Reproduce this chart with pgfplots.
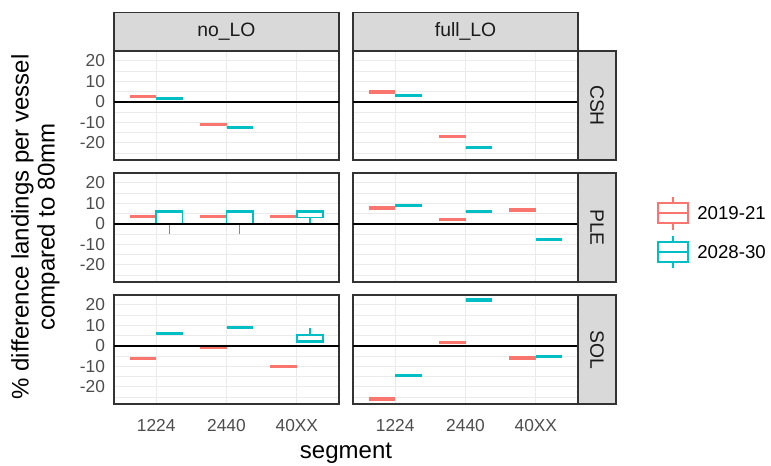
\documentclass[border=0pt]{standalone}
\usepackage{fontspec}
\setmainfont{Liberation Sans}
\usepackage{pgfplots}
\pgfplotsset{compat=1.18}
\usepgfplotslibrary{statistics}
\definecolor{c1}{HTML}{F8766D}
\definecolor{c2}{HTML}{00BFC4}
\definecolor{grey92}{HTML}{EBEBEB}
\definecolor{grey20}{HTML}{333333}
\definecolor{grey30}{HTML}{4D4D4D}
\definecolor{grey85}{HTML}{D9D9D9}
\definecolor{grey10}{HTML}{1A1A1A}
\pgfplotsset{
  panel/.style={scale only axis, width=168.75pt, height=81.75pt, anchor=north west,
    xmin=0.4, xmax=3.6, ymin=-28.4, ymax=24.8,
    xtick={1,2,3}, ytick={-20,-10,0,10,20}, minor ytick={-25,-15,-5,5,15},
    xticklabels={}, yticklabels={},
    grid=both, major grid style={color=grey92, line width=0.9pt},
    minor grid style={color=grey92, line width=0.5pt},
    axis line style={grey20, line width=0.8pt},
    tick align=outside, major tick length=3.75pt, minor tick length=0pt,
    xtick pos=bottom, ytick pos=left,
    xtick style={draw=none}, ytick style={draw=none},
    boxplot/draw direction=y,
    boxplot/box extend=0.375, boxplot/whisker extend=0,
    boxplot/every median/.style={line width=2.6pt}},
  leftcol/.style={yticklabels={-20,-10,0,10,20}, ytick style={grey20, line width=0.8pt},
    yticklabel style={font=\fontsize{13}{14}\selectfont, text=grey30, xshift=0.5pt}},
  bottomrow/.style={xticklabels={1224,2440,40XX}, xtick style={grey20, line width=0.8pt},
    xticklabel style={font=\fontsize{13}{14}\selectfont, text=grey30, yshift=-4.3pt}},
  rb/.style={draw=c1, fill=white, line width=1.2pt, mark=none},
  cb/.style={draw=c2, fill=white, line width=1.2pt, mark=none},
}
% #1 style, #2 position, #3 lower whisker, #4 lower quartile, #5 median, #6 upper quartile, #7 upper whisker
\newcommand{\bx}[7]{\addplot[#1, boxplot prepared={draw position=#2, lower whisker=#3, lower quartile=#4, median=#5, upper quartile=#6, upper whisker=#7}] coordinates {};}
\newcommand{\zero}{\addplot[black, line width=1.25pt] coordinates {(0.4,0) (3.6,0)};}
\begin{document}
\begin{tikzpicture}
\useasboundingbox (0,0) rectangle (578.25pt,-349.5pt);
% ---------- CSH no_LO
\begin{axis}[panel, leftcol, at={(85.5pt,-38.25pt)}]
\bx{rb}{0.8125}{2.7}{2.7}{2.7}{2.7}{2.7}
\bx{cb}{1.1875}{1.6}{1.6}{1.6}{1.6}{1.6}
\bx{rb}{1.8125}{-11.1}{-11.1}{-11.1}{-11.1}{-11.1}
\bx{cb}{2.1875}{-12.6}{-12.6}{-12.6}{-12.6}{-12.4}
\zero
\end{axis}
% ---------- CSH full_LO
\begin{axis}[panel, at={(264.75pt,-38.25pt)}]
\bx{rb}{0.8125}{4.8}{4.8}{4.8}{4.8}{4.8}
\bx{cb}{1.1875}{3.2}{3.2}{3.2}{3.2}{3.2}
\bx{rb}{1.8125}{-16.9}{-16.9}{-16.9}{-16.9}{-16.9}
\bx{cb}{2.1875}{-22.4}{-22.4}{-22.4}{-22.4}{-21.8}
\zero
\end{axis}
% ---------- PLE no_LO
\begin{axis}[panel, leftcol, at={(85.5pt,-129.75pt)}]
\bx{rb}{0.8125}{3.5}{3.5}{3.5}{3.5}{3.5}
\bx{cb}{1.1875}{-5.2}{0}{6.0}{6.4}{6.4}
\bx{rb}{1.8125}{3.5}{3.5}{3.5}{3.5}{3.5}
\bx{cb}{2.1875}{-5.2}{0}{6.0}{6.4}{6.4}
\bx{rb}{2.8125}{3.5}{3.5}{3.5}{3.5}{3.5}
\bx{cb}{3.1875}{0.3}{3.0}{6.0}{6.5}{6.5}
\zero
\end{axis}
% ---------- PLE full_LO
\begin{axis}[panel, at={(264.75pt,-129.75pt)}]
\bx{rb}{0.8125}{7.7}{7.7}{7.7}{7.7}{7.7}
\bx{cb}{1.1875}{8.9}{8.9}{8.9}{8.9}{8.9}
\bx{rb}{1.8125}{2.1}{2.1}{2.1}{2.1}{2.1}
\bx{cb}{2.1875}{6.0}{6.0}{6.0}{6.0}{6.0}
\bx{rb}{2.8125}{6.8}{6.8}{6.8}{6.8}{6.8}
\bx{cb}{3.1875}{-7.7}{-7.7}{-7.7}{-7.7}{-7.7}
\zero
\end{axis}
% ---------- SOL no_LO
\begin{axis}[panel, leftcol, bottomrow, at={(85.5pt,-221.25pt)}]
\bx{rb}{0.8125}{-6.1}{-6.1}{-6.1}{-6.1}{-6.1}
\bx{cb}{1.1875}{6.0}{6.0}{6.0}{6.0}{6.0}
\bx{rb}{1.8125}{-0.6}{-0.6}{-0.6}{-0.6}{-0.6}
\bx{cb}{2.1875}{9.0}{9.0}{9.0}{9.0}{9.0}
\bx{rb}{2.8125}{-10.2}{-10.2}{-10.2}{-10.2}{-10.2}
\bx{cb}{3.1875}{1.6}{1.6}{2.2}{5.2}{8.7}
\zero
\end{axis}
% ---------- SOL full_LO
\begin{axis}[panel, bottomrow, at={(264.75pt,-221.25pt)}]
\bx{rb}{0.8125}{-26.0}{-26.0}{-26.0}{-26.0}{-26.0}
\bx{cb}{1.1875}{-14.5}{-14.5}{-14.5}{-14.5}{-14.5}
\bx{rb}{1.8125}{1.6}{1.6}{1.6}{1.6}{1.6}
\bx{cb}{2.1875}{22.3}{22.3}{22.3}{22.3}{22.3}
\bx{rb}{2.8125}{-6.0}{-6.0}{-6.0}{-6.0}{-6.0}
\bx{cb}{3.1875}{-5.3}{-5.3}{-5.3}{-5.3}{-4.3}
\zero
\end{axis}
% ---------- strips
\begin{scope}[every node/.style={font=\fontsize{14.5}{16}\selectfont, text=grey10}]
\draw[grey20, fill=grey85, line width=0.8pt] (85.5pt,-9.375pt) rectangle (254.25pt,-38.25pt);
\node at (169.875pt,-23.8pt) {no\_LO};
\draw[grey20, fill=grey85, line width=0.8pt] (264.75pt,-9.375pt) rectangle (433.5pt,-38.25pt);
\node at (349.125pt,-23.8pt) {full\_LO};
\draw[grey20, fill=grey85, line width=0.8pt] (433.5pt,-38.25pt) rectangle (462pt,-120pt);
\node[rotate=-90] at (447.75pt,-79.125pt) {CSH};
\draw[grey20, fill=grey85, line width=0.8pt] (433.5pt,-129.75pt) rectangle (462pt,-211.5pt);
\node[rotate=-90] at (447.75pt,-170.625pt) {PLE};
\draw[grey20, fill=grey85, line width=0.8pt] (433.5pt,-221.25pt) rectangle (462pt,-303pt);
\node[rotate=-90] at (447.75pt,-262.125pt) {SOL};
\end{scope}
% ---------- axis titles
\node[font=\fontsize{18}{19.5}\selectfont, anchor=base] at (259.5pt,-344.25pt) {segment};
\node[font=\fontsize{18}{19.5}\selectfont, rotate=90, align=center] at (26.5pt,-170.25pt) {\% difference landings per vessel\\compared to 80mm};
% ---------- legend
\begin{scope}[line width=1.1pt]
\draw[c1] (504.75pt,-147.75pt) -- (504.75pt,-152.25pt) (504.75pt,-167.25pt) -- (504.75pt,-172.5pt);
\draw[c1, fill=white] (493.5pt,-152.25pt) rectangle (516pt,-167.25pt);
\draw[c1] (493.5pt,-159.75pt) -- (516pt,-159.75pt);
\draw[c2] (504.75pt,-177pt) -- (504.75pt,-181.5pt) (504.75pt,-196.5pt) -- (504.75pt,-201pt);
\draw[c2, fill=white] (493.5pt,-181.5pt) rectangle (516pt,-196.5pt);
\draw[c2] (493.5pt,-189pt) -- (516pt,-189pt);
\end{scope}
\node[font=\fontsize{14}{15}\selectfont, anchor=west, inner sep=0pt] at (522.75pt,-159.75pt) {2019-21};
\node[font=\fontsize{14}{15}\selectfont, anchor=west, inner sep=0pt] at (522.75pt,-189pt) {2028-30};
\end{tikzpicture}
\end{document}
